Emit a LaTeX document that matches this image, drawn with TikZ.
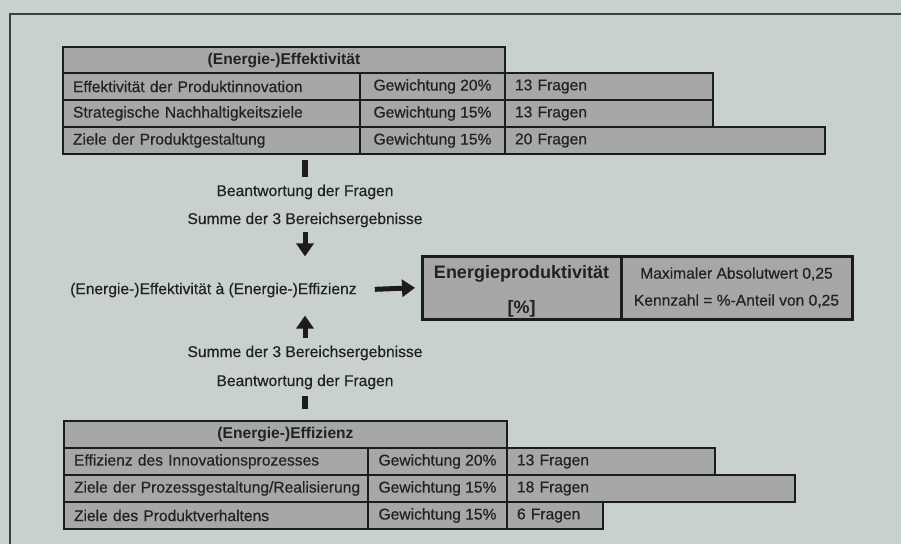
\documentclass[tikz,border=0pt]{standalone}
\usepackage{fontspec}
\setmainfont{Liberation Sans}[UprightFeatures={FakeBold=0.5}]
\usepackage{xcolor}
\usetikzlibrary{arrows.meta,calc,positioning}
\definecolor{paperbg}{HTML}{C9D1CE}
\definecolor{cellgray}{HTML}{A6A8A5}
\definecolor{inkdark}{HTML}{1C1C1C}
\definecolor{textdark}{HTML}{222222}
\tikzset{
  cell/.style={draw=inkdark,fill=cellgray,line width=2.2pt,anchor=north west,inner sep=0pt,outer sep=0pt,minimum height=27pt,text=textdark},
  leftcell/.style={align=left,inner xsep=10pt},
  plaintext/.style={inner sep=0pt,text=textdark},
  stubbar/.style={draw=inkdark,line width=5.5pt},
  fatarrow/.style={draw=inkdark,line width=5pt,-{Triangle[width=17pt,length=13pt]}},
  frameline/.style={draw=inkdark!85,line width=1.8pt}
}

\begin{document}
\begin{tikzpicture}[x=1pt,y=-1pt,font=\fontsize{15.6}{18}\selectfont]
  \fill[paperbg] (0,0) rectangle (901,544);
  \useasboundingbox (0,0) rectangle (901,544);
  \draw[frameline] (10,544) -- (10,14) -- (901,14);
  % upper table
  \node[cell,minimum width=442pt,minimum height=26pt] (effhead) at (63,47) {\bfseries (Energie-)Effektivität};
  \foreach \y/\txt/\pct/\n [count=\i] in {73/Effektivität der Produktinnovation/20/13,100/Strategische Nachhaltigkeitsziele/15/13,127/Ziele der Produktgestaltung/15/20}{
    \pgfmathsetmacro{\qw}{16*\n-20}
    \node[cell,leftcell,text width=277pt] (effrow\i) at (63,\y) {\mbox{\txt}};
    \node[cell,minimum width=145pt] (effwt\i) at (360,\y) {Gewichtung \pct\%};
    \node[cell,leftcell,text width=\qw pt] (effq\i) at (505,\y) {\n\ Fragen};
  }
  % lower table
  \node[cell,minimum width=443pt] (effzhead) at (64,421) {\bfseries (Energie-)Effizienz};
  \foreach \y/\txt/\pct/\n [count=\i] in {448/{Effizienz des Innovationsprozesses}/20/13,475/{Ziele der Prozessgestaltung/Realisierung}/15/18,502/{Ziele des Produktverhaltens}/15/6}{
    \pgfmathsetmacro{\qw}{16*\n-20}
    \node[cell,leftcell,text width=284pt] (effzrow\i) at (64,\y) {\mbox{\txt}};
    \node[cell,minimum width=139pt] (effzwt\i) at (368,\y) {Gewichtung \pct\%};
    \node[cell,leftcell,text width=\qw pt] (effzq\i) at (507,\y) {\n\ Fragen};
  }
  % middle
  \node[plaintext] (askA) at (305,192) {Beantwortung der Fragen};
  \node[plaintext] (sumA) at (305,220) {Summe der 3 Bereichsergebnisse};
  \node[plaintext,anchor=west] (ratio) at (70,290) {(Energie-)Effektivität à (Energie-)Effizienz};
  \node[plaintext] (sumB) at (305,353) {Summe der 3 Bereichsergebnisse};
  \node[plaintext] (askB) at (305,382) {Beantwortung der Fragen};
  \node[cell,line width=3pt,minimum width=199pt,minimum height=63pt,align=center,font=\fontsize{18}{35}\selectfont\bfseries] (prodbox) at (422,256) {\rule{0pt}{20pt}Energieproduktivität\\{[\%]}};
  \node[cell,line width=3pt,minimum width=231pt,minimum height=63pt,align=center,font=\fontsize{15.6}{27}\selectfont] (prodnote) at (621,256) {Maximaler Absolutwert 0,25\\Kennzahl = \%-Anteil von 0,25};
  \draw[stubbar,shorten <=6pt,shorten >=8pt] (effrow3.south -| askA) -- (askA.north);
  \draw[fatarrow,shorten <=5pt,shorten >=26pt] (sumA.south) -- (sumA.south |- ratio.north);
  \draw[fatarrow,shorten <=8pt,shorten >=18pt] (sumB.north) -- (sumB.north |- ratio.south);
  \draw[stubbar,shorten <=7pt,shorten >=12pt] (askB.south) -- (askB.south |- effzhead.north);
  \draw[fatarrow,shorten <=18pt,shorten >=7pt] (ratio.east) -- (prodbox.west);
\end{tikzpicture}
\end{document}
